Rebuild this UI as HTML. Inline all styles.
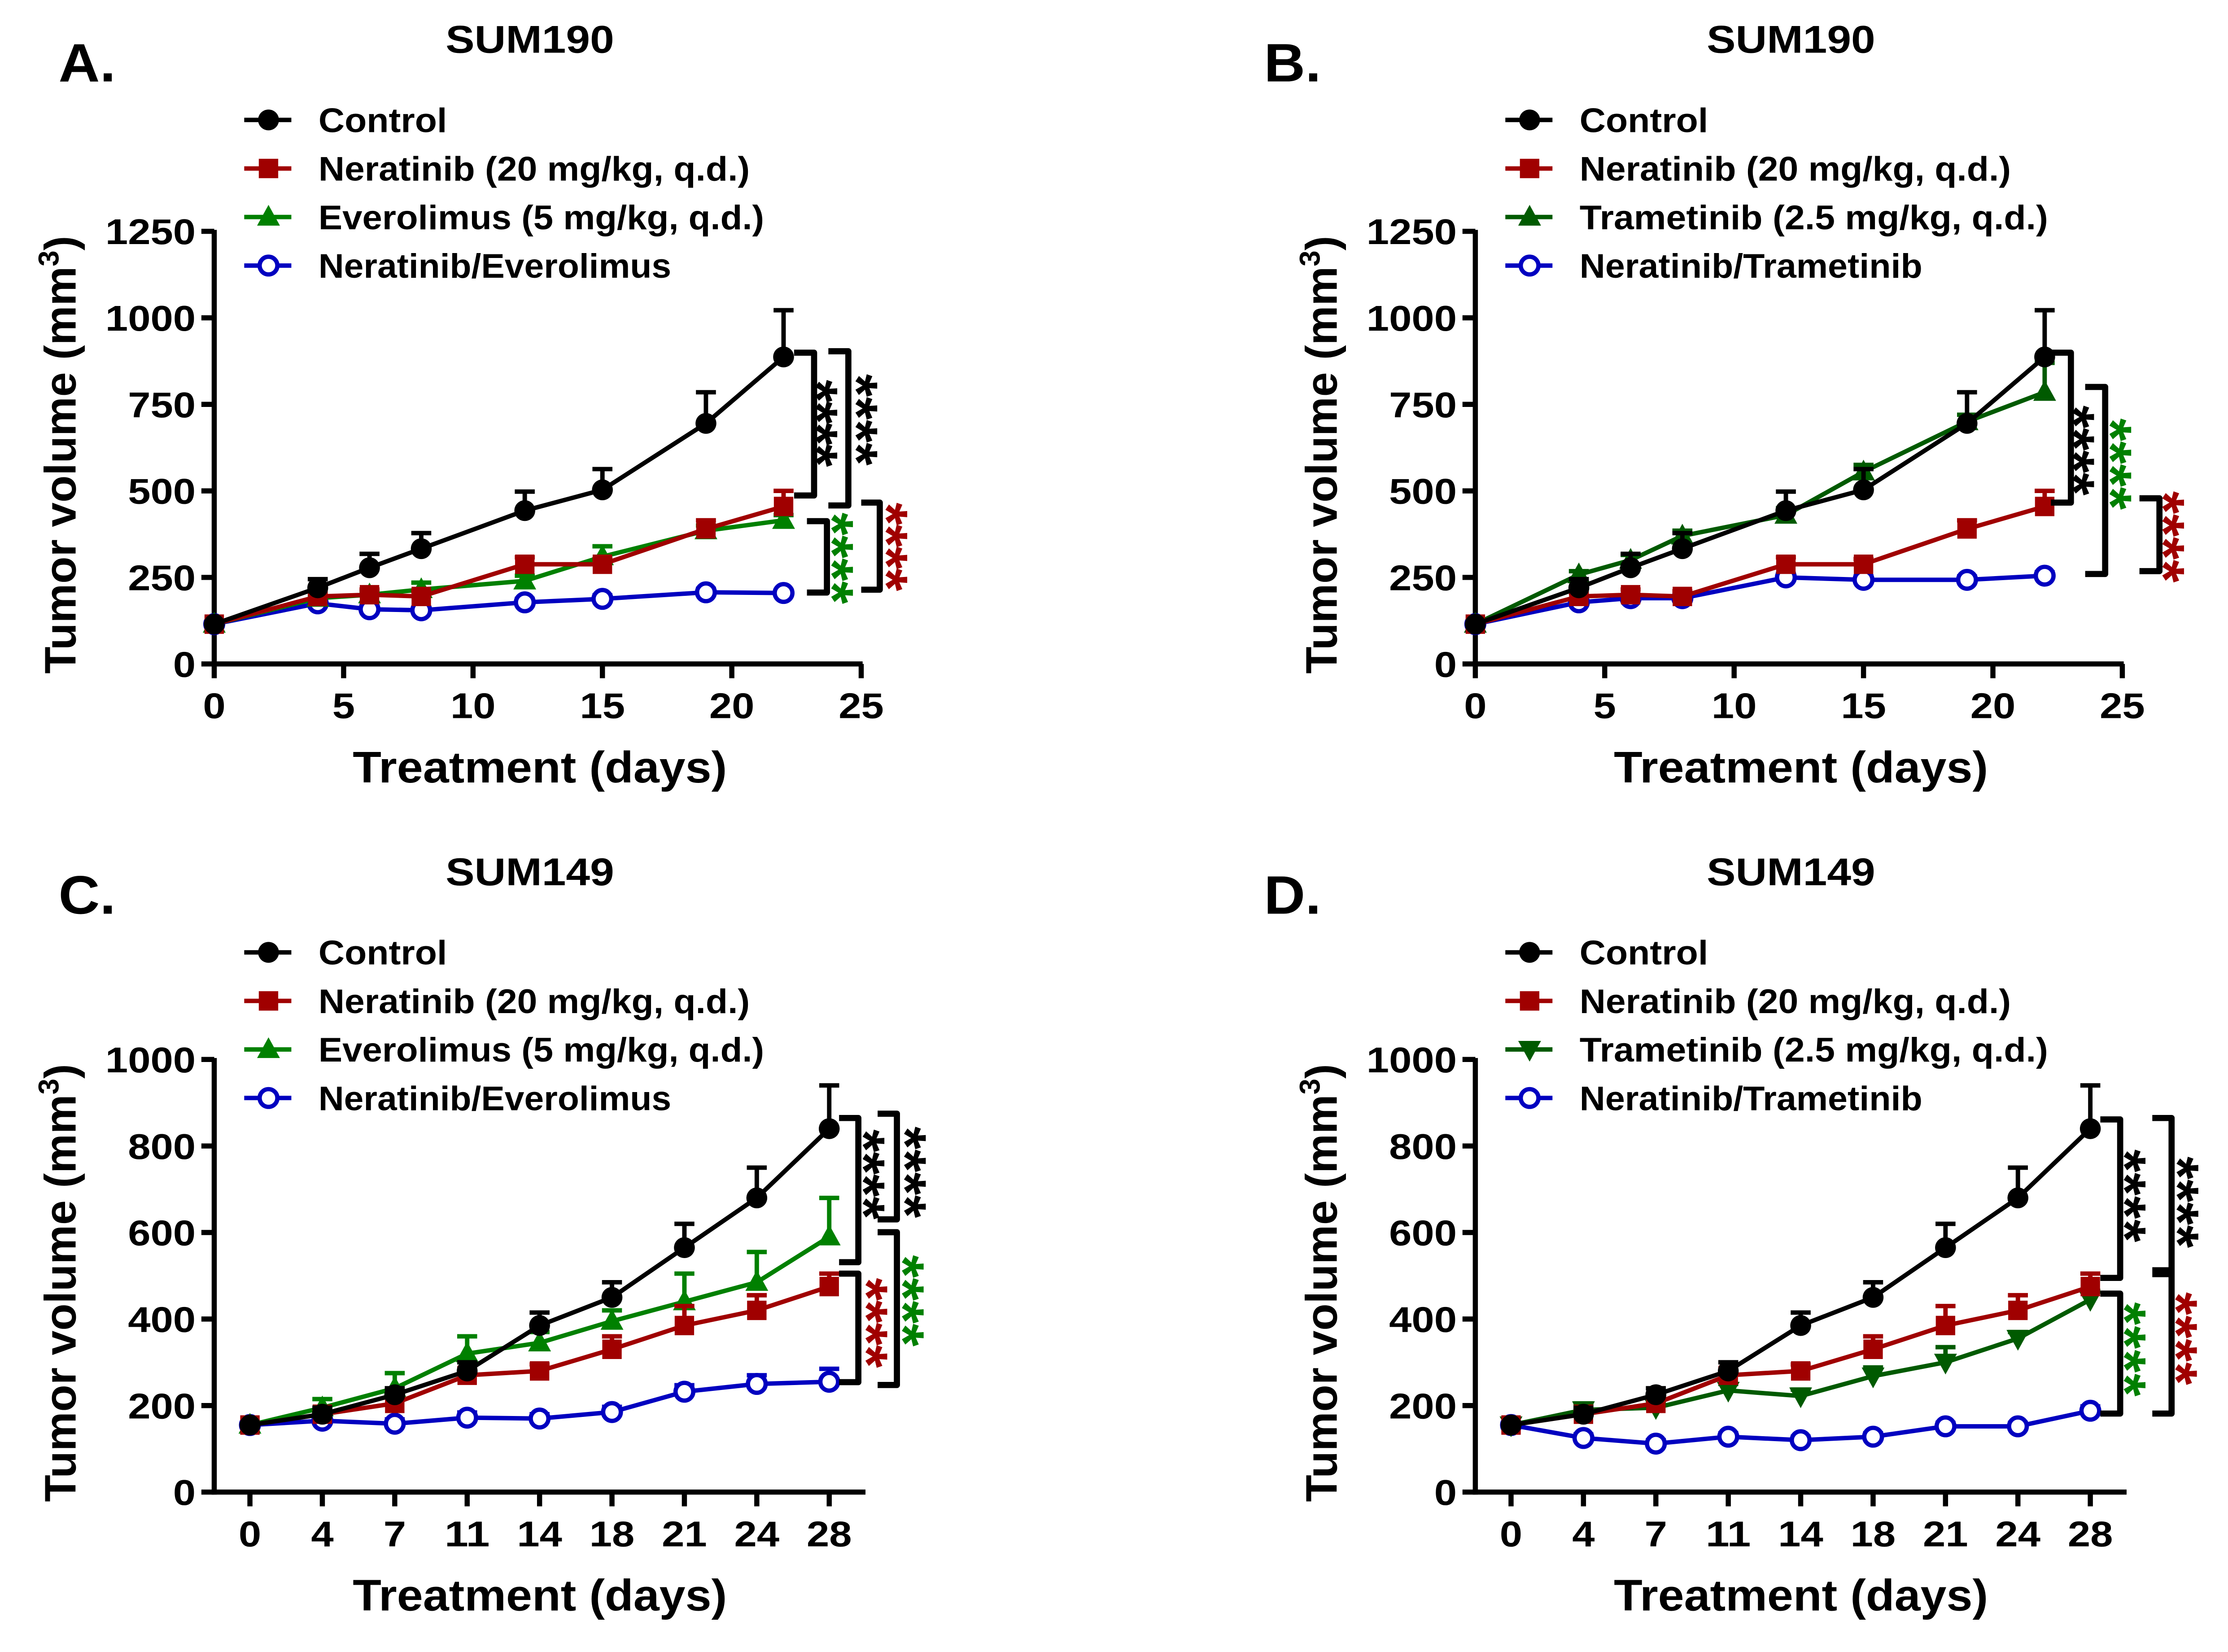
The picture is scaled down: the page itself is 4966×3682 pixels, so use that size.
<!DOCTYPE html>
<html><head><meta charset="utf-8"><style>html,body{margin:0;padding:0;background:#fff}svg{display:block}text{font-family:"Liberation Sans",Arial,sans-serif;font-weight:bold}</style></head>
<body>
<svg id="s" xmlns="http://www.w3.org/2000/svg" width="4966" height="3682" viewBox="0 0 1560 1157" preserveAspectRatio="none">
<rect width="1560" height="1157" fill="#fff"/>
</svg>
<script>
const S=document.getElementById('s');const NS='http://www.w3.org/2000/svg';
function el(t,a,txt){const e=document.createElementNS(NS,t);for(const k in a)e.setAttribute(k,a[k]);if(txt!==undefined)e.textContent=txt;S.appendChild(e);return e;}
const RED='#a00000',GRN='#008000',DGR='#005a00',BLU='#0000c0';
const LW=3.1;
function marker(type,x,y,c){
 if(type=='c')el('circle',{cx:x,cy:y,r:7.3,fill:c});
 else if(type=='s')el('rect',{x:x-6.8,y:y-6.8,width:13.6,height:13.6,fill:c});
 else if(type=='t')el('polygon',{points:`${x},${y-8.5} ${x+8},${y+6} ${x-8},${y+6}`,fill:c});
 else if(type=='v')el('polygon',{points:`${x},${y+8.5} ${x+8},${y-6} ${x-8},${y-6}`,fill:c});
 else if(type=='o')el('circle',{cx:x,cy:y,r:6.2,fill:'#fff',stroke:c,'stroke-width':3});
}
function stars(cx,y1,y2,c){
 const cy=(y1+y2)/2;
 el('text',{x:0,y:0,'font-size':41,'text-anchor':'middle',fill:c,transform:`translate(${cx-23},${cy}) rotate(90)`,textLength:(y2-y1),lengthAdjust:'spacing'},'****');
}
function bracket(x1,x2,y1,y2){el('path',{d:`M${x1},${y1} H${x2} V${y2} H${x1}`,fill:'none',stroke:'#000','stroke-width':4.3,'stroke-linejoin':'round'});}
function panel(p){
 const {ox,y0,ytop,ys,xs,xticks,xlab,yticks,xend,legend,title,letter,ty,series,lx}=p;
 el('text',{x:ox+371,y:ty,'font-size':27,'text-anchor':'middle',textLength:118,lengthAdjust:'spacingAndGlyphs'},title);
 el('text',{x:lx,y:ty+20,'font-size':38,textLength:40,lengthAdjust:'spacingAndGlyphs'},letter);
 legend.forEach((l,i)=>{const y=ty+47+i*34;
  el('line',{x1:ox+171,x2:ox+204,y1:y,y2:y,stroke:l[1],'stroke-width':LW});
  marker(l[2],ox+188,y,l[1]);
  el('text',{x:ox+223,y:y+8.5,'font-size':24,textLength:l[3],lengthAdjust:'spacingAndGlyphs'},l[0]);
 });
 el('line',{x1:ox+150,x2:ox+150,y1:ytop-1,y2:y0+1.8,stroke:'#000','stroke-width':3.6});
 el('line',{x1:ox+148.2,x2:ox+xend,y1:y0,y2:y0,stroke:'#000','stroke-width':3.6});
 yticks.forEach(v=>{const y=y0-v*ys;
  el('line',{x1:ox+141,x2:ox+150,y1:y,y2:y,stroke:'#000','stroke-width':3.6});
  const s=String(v);el('text',{x:ox+137,y:y+9,'font-size':25,'text-anchor':'end',textLength:s.length*15.8,lengthAdjust:'spacingAndGlyphs'},s);
 });
 xticks.forEach((v,i)=>{const x=ox+xs(v,i);
  el('line',{x1:x,x2:x,y1:y0,y2:y0+10,stroke:'#000','stroke-width':3.6});
  const s=String(v);el('text',{x:x,y:y0+38,'font-size':25,'text-anchor':'middle',textLength:s.length*15.8,lengthAdjust:'spacingAndGlyphs'},s);
 });
 el('text',{x:ox+378,y:y0+83,'font-size':31,'text-anchor':'middle',textLength:262,lengthAdjust:'spacingAndGlyphs'},'Treatment (days)');
 const t=el('text',{x:0,y:0,'font-size':31,'text-anchor':'middle',transform:`translate(${ox+53},${(ytop+y0)/2+5}) rotate(-90)`});
 t.innerHTML='Tumor volume (mm<tspan dy="-12" font-size="20">3</tspan><tspan dy="12">)</tspan>';
 series.forEach(sr=>{const [days,vals,errs,c,m]=sr;
  const pts=days.map((d,i)=>[ox+xs(d,i),y0-vals[i]*ys]);
  pts.forEach((pt,i)=>{if(errs[i]>0){const ye=y0-(vals[i]+errs[i])*ys;
   el('line',{x1:pt[0],x2:pt[0],y1:pt[1],y2:ye,stroke:c,'stroke-width':LW});
   el('line',{x1:pt[0]-7,x2:pt[0]+7,y1:ye,y2:ye,stroke:c,'stroke-width':LW});}});
  el('polyline',{points:pts.map(p=>p.join(',')).join(' '),fill:'none',stroke:c,'stroke-width':LW,'stroke-linejoin':'round'});
  pts.forEach(pt=>marker(m,pt[0],pt[1],c));
 });
}
const dAB=[0,4,6,8,12,15,19,22];
const ctlAB=[[115,220,278,333,443,503,695,887],[0,25,40,45,55,60,90,135]];
const nerAB=[[115,195,200,195,288,288,390,455],[0,10,15,15,20,15,25,45]];
const xsAB=(d)=>150+d*18.12;
const yAB=[0,250,500,750,1000,1250];
function AB(ox,third,lab3,lab4,m3,c3,comboV){
 panel({ox,y0:465,ytop:162,ys:60.6/250,xs:xsAB,xticks:[0,5,10,15,20,25],yticks:yAB,xend:604,ty:37,title:'SUM190',letter:ox?'B.':'A.',lx:ox?885:41,
 legend:[['Control','#000','c',90],['Neratinib (20 mg/kg, q.d.)',RED,'s',302],[lab3,c3,m3,ox?328:312],[lab4,BLU,'o',ox?240:247]],
 series:[[dAB,comboV[0],comboV[1],BLU,'o'],[dAB,third[0],third[1],c3,m3],[dAB,nerAB[0],nerAB[1],RED,'s'],[dAB,ctlAB[0],ctlAB[1],'#000','c']]});
}
AB(0,[[115,190,200,215,240,310,385,415],[0,10,10,20,15,30,15,15]],'Everolimus (5 mg/kg, q.d.)','Neratinib/Everolimus','t',GRN,[[115,175,158,155,178,188,207,205],[0,10,10,8,10,10,10,8]]);
AB(883,[[115,258,300,370,430,555,700,785],[0,10,15,15,20,20,20,85]],'Trametinib (2.5 mg/kg, q.d.)','Neratinib/Trametinib','t',DGR,[[115,178,190,190,250,243,243,255],[0,10,10,10,10,10,10,10]]);
bracket(556,570,247,347);stars(581,266,327,'#000');
bracket(580,594,246,354);stars(609,262,326,'#000');
bracket(565,579,365,415);stars(592,359,423,GRN);
bracket(603,616,352,413);stars(630,352,414,RED);
bracket(1436,1450,247,352);stars(1461,284,347,'#000');
bracket(1460,1474,271,402);stars(1487,293,357,GRN);
bracket(1498,1512,349,400);stars(1524,344,408,RED);
const dCD=[0,4,7,11,14,18,21,24,28];
const xsCD=(d,i)=>175+i*50.7;
const ctlCD=[[155,180,225,280,385,450,565,680,840],[0,15,15,20,30,35,55,70,100]];
const nerCD=[[155,180,205,270,280,330,385,420,475],[0,10,15,15,15,30,45,35,30]];
function CD(ox,third,lab3,lab4,m3,c3,comboV){
 panel({ox,y0:1045,ytop:742,ys:0.303,xs:xsCD,xticks:dCD,yticks:[0,200,400,600,800,1000],xend:606,ty:620,title:'SUM149',letter:ox?'D.':'C.',lx:ox?885:41,
 legend:[['Control','#000','c',90],['Neratinib (20 mg/kg, q.d.)',RED,'s',302],[lab3,c3,m3,ox?328:312],[lab4,BLU,'o',ox?240:247]],
 series:[[dCD,comboV[0],comboV[1],BLU,'o'],[dCD,third[0],third[1],c3,m3],[dCD,nerCD[0],nerCD[1],RED,'s'],[dCD,ctlCD[0],ctlCD[1],'#000','c']]});
}
CD(0,[[155,195,240,320,345,395,440,485,590],[0,20,35,40,25,25,65,70,90]],'Everolimus (5 mg/kg, q.d.)','Neratinib/Everolimus','t',GRN,[[155,165,158,172,170,185,232,250,255],[0,10,10,12,10,12,15,20,30]]);
CD(883,[[155,190,195,235,222,268,300,355,445],[0,15,15,15,15,20,35,15,20]],'Trametinib (2.5 mg/kg, q.d.)','Neratinib/Trametinib','v',DGR,[[155,125,112,128,120,128,152,152,188],[0,8,8,8,8,8,8,8,10]]);
bracket(587.5,601,783,884);stars(614,791,854,'#000');
bracket(614.5,628,780,854);stars(643,789,853,'#000');
bracket(587.5,601,892,968);stars(616,895,958,RED);
bracket(614.5,628,863,970);stars(641.5,879,943,GRN);
bracket(1470.6,1484.5,784,895);stars(1497,805,870,'#000');
bracket(1507,1520.5,783,990);el('line',{x1:1507,x2:1521,y1:891,y2:891,stroke:'#000','stroke-width':7});
stars(1534,810,874,'#000');stars(1533,905,970,RED);
bracket(1470.6,1484.5,906,990);stars(1497,912,978,GRN);
</script>
</body></html>
